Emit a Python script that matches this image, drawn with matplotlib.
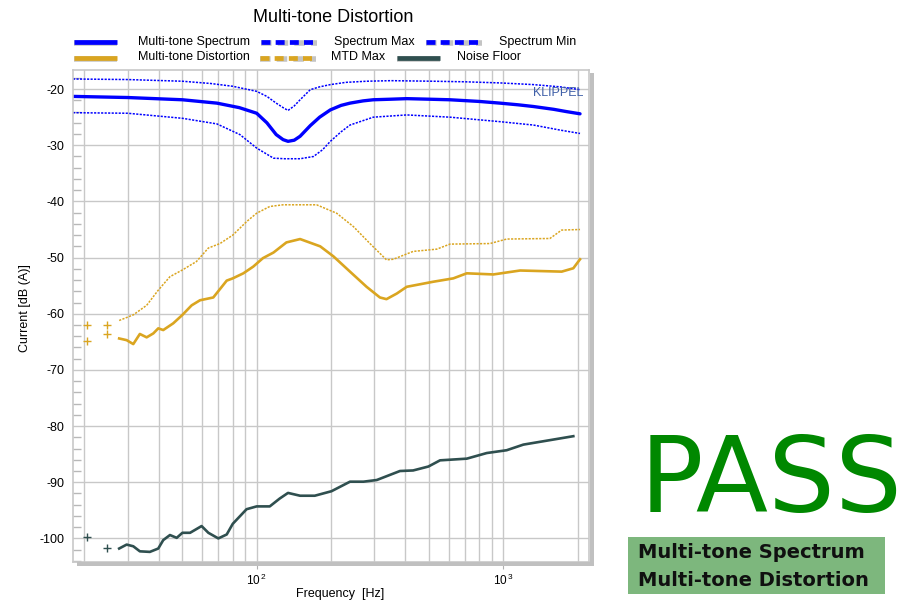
import matplotlib
matplotlib.use("Agg")
import matplotlib.pyplot as plt
from matplotlib.lines import Line2D
from matplotlib.patches import Rectangle
from matplotlib.ticker import FixedLocator, MultipleLocator, NullFormatter

plt.rcParams["font.family"] = ["Liberation Sans", "DejaVu Sans"]
plt.rcParams["axes.unicode_minus"] = False

W, H = 915, 608

# Multi-tone Spectrum (solid blue)
spec_f = [18, 30, 50, 69, 85, 100, 110, 120, 128, 134, 142, 150, 165, 180, 199,
          220, 239, 270, 297, 350, 406, 500, 608, 800, 970, 1150, 1324, 1600,
          1800, 2047]
spec_db = [-21.3, -21.5, -21.9, -22.5, -23.3, -24.3, -26.0, -28.1, -29.0, -29.3,
           -29.1, -28.4, -26.5, -25.0, -23.7, -22.9, -22.5, -22.1, -21.9, -21.8,
           -21.7, -21.8, -21.9, -22.2, -22.5, -22.8, -23.1, -23.6, -24.0, -24.4]

# Spectrum Max
smax_f = [18, 30, 50, 65, 80, 100, 110, 120, 128, 134, 142, 150, 165, 180, 199,
          230, 279, 350, 520, 700, 970, 1324, 1700, 2047]
smax_db = [-18.2, -18.3, -18.6, -19.0, -19.5, -20.4, -21.3, -22.5, -23.3, -23.8,
           -23.0, -21.9, -20.1, -19.6, -19.2, -18.8, -18.6, -18.5, -18.6, -18.7,
           -18.9, -19.2, -19.6, -20.1]

# Spectrum Min
smin_f = [18, 30, 50, 69, 85.5, 100, 117, 130, 150, 170, 185, 199, 220, 239, 297,
          406, 608, 970, 1324, 1700, 2047]
smin_db = [-24.2, -24.3, -25.2, -26.2, -28.1, -30.5, -32.3, -32.4, -32.4, -32.0,
           -30.8, -29.3, -27.6, -26.4, -25.0, -24.6, -25.0, -25.8, -26.4, -27.3,
           -27.9]

# Multi-tone Distortion
mtd_f = [27.7, 29.7, 31.6, 33.6, 35.8, 38.1, 39.9, 41.8, 45.9, 50, 54.5, 58.9,
         66.7, 75.6, 80, 88.3, 96.9, 106, 117, 132, 150, 181, 205, 239, 279, 316,
         336, 370, 406, 520, 627, 711, 912, 1170, 1725, 1923, 2047]
mtd_db = [-64.4, -64.7, -65.4, -63.6, -64.2, -63.5, -62.6, -62.9, -61.7, -60.2,
          -58.5, -57.6, -57.1, -54.1, -53.7, -52.8, -51.6, -50.1, -49.1, -47.3,
          -46.7, -48.0, -49.8, -52.5, -55.2, -57.1, -57.4, -56.4, -55.2, -54.3,
          -53.7, -52.8, -53.0, -52.3, -52.5, -51.9, -50.3]

# MTD Max
mtdmax_f = [27.7, 31.6, 35.8, 39.9, 44.5, 50, 57, 63.7, 71, 80, 91, 100, 113, 128,
            175, 211, 247, 288, 336, 358, 431, 537, 608, 883, 1032, 1545, 1725,
            2047]
mtdmax_db = [-61.2, -60.2, -58.5, -55.8, -53.4, -52.2, -50.7, -48.3, -47.5, -46.0,
             -43.6, -42.1, -40.9, -40.6, -40.6, -42.1, -44.5, -47.5, -50.4, -50.3,
             -48.9, -48.5, -47.6, -47.5, -46.7, -46.6, -45.1, -45.0]

# Noise Floor
noise_f = [27.7, 29.7, 31.6, 33.6, 36.9, 39.9, 41.8, 44.5, 47.4, 50, 53.7, 59.8,
           63.7, 69.9, 75.6, 80, 91, 100, 113, 124, 134, 150, 172, 201, 239, 271,
           307, 381, 431, 497, 554, 711, 857, 1032, 1206, 1596, 1923]
noise_db = [-101.8, -101.1, -101.4, -102.3, -102.4, -101.8, -100.3, -99.4, -99.9,
            -99.0, -99.0, -97.8, -99.0, -100.0, -99.3, -97.4, -94.8, -94.3, -94.3,
            -92.9, -91.9, -92.4, -92.4, -91.6, -89.9, -89.9, -89.6, -88.0, -87.9,
            -87.2, -86.1, -85.8, -84.8, -84.3, -83.3, -82.4, -81.8]

# isolated low-frequency points (+ markers)
pt_f = [20.6, 24.8]
pt_mtdmax = [-62.0, -62.0]
pt_mtd = [-64.8, -63.6]
pt_noise = [-99.7, -101.7]

BLUE = "#0000ff"
GOLD = "#daa520"
SLATE = "#2f4f4f"
GRID = "#c8c8c8"
DOT = (0, (1.4, 0.9))


def fx(x):
    return x / W


def fy(y):
    return 1 - y / H


fig = plt.figure(figsize=(W / 100, H / 100), dpi=100)
ax = fig.add_axes([fx(73), fy(562), (589 - 73) / W, (562 - 70) / H])

ax.plot(smax_f, smax_db, color=BLUE, lw=1.1, ls=DOT)
ax.plot(smin_f, smin_db, color=BLUE, lw=1.1, ls=DOT)
ax.plot(spec_f, spec_db, color=BLUE, lw=2.4, solid_capstyle="round")
ax.plot(mtdmax_f, mtdmax_db, color=GOLD, lw=1.1, ls=DOT)
ax.plot(mtd_f, mtd_db, color=GOLD, lw=1.9)
ax.plot(noise_f, noise_db, color=SLATE, lw=1.9)
ax.plot(pt_f, pt_mtdmax, ls="none", marker="+", ms=6, mew=1, color=GOLD)
ax.plot(pt_f, pt_mtd, ls="none", marker="+", ms=6, mew=1, color=GOLD)
ax.plot(pt_f, pt_noise, ls="none", marker="+", ms=6, mew=1, color=SLATE)

ax.set_xscale("log")
ax.set_xlim(18, 2226)
ax.set_ylim(-104.2, -16.6)

ax.set_xticks([100, 1000], labels=[r"$\mathregular{10^{\,2}}$", r"$\mathregular{10^{\,3}}$"])
minor_x = [f * m for m in (10, 100, 1000) for f in range(2, 10)]
ax.xaxis.set_minor_locator(FixedLocator(minor_x))
ax.xaxis.set_minor_formatter(NullFormatter())
ax.tick_params(axis="x", which="major", direction="out", length=5, color="#b0b0b0",
               labelsize=8.5, pad=3)
ax.tick_params(axis="x", which="minor", length=0)

ax.set_yticks(range(-100, -19, 10))
ax.yaxis.set_minor_locator(MultipleLocator(2))
ax.tick_params(axis="y", which="both", direction="in", color="#b8b8b8", width=1,
               labelsize=9, pad=6)
ax.tick_params(axis="y", which="major", length=0)
ax.tick_params(axis="y", which="minor", length=6)

ax.grid(which="major", color=GRID, lw=1.0)
ax.grid(which="minor", axis="x", color=GRID, lw=1.0)
ax.set_axisbelow(True)
for s in ax.spines.values():
    s.set_color(GRID)
    s.set_linewidth(1.2)

# frame shadow (right and bottom)
fig.add_artist(Rectangle((fx(590), fy(566)), 4 / W, (566 - 73) / H,
                         color="#c0c0c0", lw=0))
fig.add_artist(Rectangle((fx(77), fy(566)), (594 - 77) / W, 4 / H,
                         color="#c0c0c0", lw=0))

fig.text(fx(333), fy(17), "Multi-tone Distortion", ha="center", va="center",
         fontsize=13)
fig.text(fx(25), fy(308), "Current [dB (A)]", rotation=90, ha="center",
         va="center", fontsize=9)
fig.text(fx(340), fy(594), "Frequency  [Hz]", ha="center", va="center", fontsize=9)
fig.text(fx(533), fy(93), "KLIPPEL", ha="left", va="center", fontsize=9,
         color="#4060a8")

# legend, drawn by hand in two rows
legend_rows = [
    (41.5, [("Multi-tone Spectrum", BLUE, "-", 74, 117, 138),
            ("Spectrum Max", BLUE, "--", 261, 317, 334),
            ("Spectrum Min", BLUE, "--", 426, 482, 499)]),
    (57.5, [("Multi-tone Distortion", GOLD, "-", 74, 117, 138),
            ("MTD Max", GOLD, "--", 260, 316, 331),
            ("Noise Floor", SLATE, "-", 397, 440, 457)]),
]
for y, entries in legend_rows:
    for label, color, style, x0, x1, xt in entries:
        ls = (0, (1.9, 1.1)) if style == "--" else "-"
        fig.add_artist(Line2D([fx(x0), fx(x1)], [fy(y + 1), fy(y + 1)],
                              color="#c4c4c4", lw=4.0, ls=ls,
                              solid_capstyle="butt", dash_capstyle="butt"))
        fig.add_artist(Line2D([fx(x0), fx(x1)], [fy(y), fy(y)], color=color,
                              lw=3.4, ls=ls, solid_capstyle="butt",
                              dash_capstyle="butt"))
        fig.text(fx(xt), fy(y), label, ha="left", va="center", fontsize=9)

# PASS verdict
fig.text(fx(771.5), fy(512), "PASS", ha="center", va="baseline", fontsize=76,
         color="#008800", family="DejaVu Sans")
fig.add_artist(Rectangle((fx(628), fy(594)), 257 / W, 57 / H, color="#7db77d",
                         lw=0))
fig.text(fx(638), fy(558), "Multi-tone Spectrum", ha="left", va="baseline",
         fontsize=14, fontweight="bold", family="DejaVu Sans", color="#101010")
fig.text(fx(638), fy(586), "Multi-tone Distortion", ha="left", va="baseline",
         fontsize=14, fontweight="bold", family="DejaVu Sans", color="#101010")

fig.savefig("out.png", dpi=100)
